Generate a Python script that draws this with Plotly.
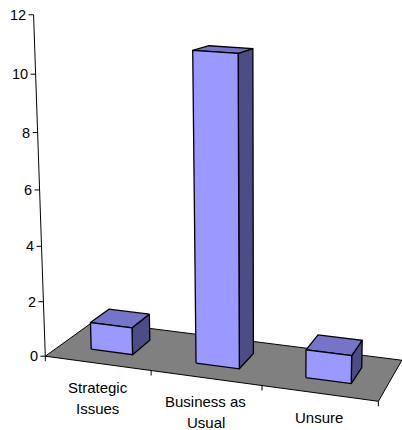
import numpy as np
import plotly.graph_objects as go

# ---- data -------------------------------------------------------------
categories = ["Strategic<br>Issues", "Business as<br>Usual", "Unsure"]
responses = [1, 11, 1]
value_ticks = [0, 2, 4, 6, 8, 10, 12]

# ---- style ------------------------------------------------------------
W, H = 402, 430
FONT = "Liberation Sans, Arial, sans-serif"
FRONT, TOP, SIDE = "#9999FF", "#7474C9", "#4C4C86"
FLOOR = "#808080"
BAR_WIDTH = 0.4          # share of a category slot
BAR_DEPTH = (0.3, 0.7)   # bar position inside the floor depth (0 front, 1 back)

# ---- perspective view ---------------------------------------------------
# World frame: x = category slot (0..n), d = depth (0..1), z = value.
# The view is calibrated from where the frame landmarks sit on the page.
view_world = [(0, 0, 0), (1, 0, 0), (2, 0, 0), (3, 0, 0), (0, 1, 0), (3, 1, 0),
              (0, 0, 2), (0, 0, 4), (0, 0, 6), (0, 0, 8), (0, 0, 10), (0, 0, 12)]
view_pixel = [(45.5, 354.5), (151.7, 370.5), (262, 386.5), (378, 402),
              (93.5, 322.5), (402, 359), (43, 301.7), (41, 246.7), (40, 190),
              (38, 132.3), (35.7, 74), (33.3, 15)]


def fit_view(world_pts, pixel_pts):
    Wp = np.asarray(world_pts, float)
    Sp = np.asarray(pixel_pts, float)
    wm = Wp.mean(0)
    ws = np.sqrt(3) / np.mean(np.linalg.norm(Wp - wm, axis=1))
    Tw = np.diag([ws, ws, ws, 1.0])
    Tw[:3, 3] = -ws * wm
    sm = Sp.mean(0)
    ss = np.sqrt(2) / np.mean(np.linalg.norm(Sp - sm, axis=1))
    Ts = np.diag([ss, ss, 1.0])
    Ts[:2, 2] = -ss * sm
    Wh = (Tw @ np.c_[Wp, np.ones(len(Wp))].T).T
    Sh = (Ts @ np.c_[Sp, np.ones(len(Sp))].T).T
    rows = []
    for Xh, (u, v, _) in zip(Wh, Sh):
        rows.append(np.r_[Xh, np.zeros(4), -u * Xh])
        rows.append(np.r_[np.zeros(4), Xh, -v * Xh])
    _, _, Vt = np.linalg.svd(np.array(rows))
    Pn = Vt[-1].reshape(3, 4)
    return np.linalg.inv(Ts) @ Pn @ Tw


P = fit_view(view_world, view_pixel)


def project(x, d, z):
    h = P @ np.array([x, d, z, 1.0])
    return h[0] / h[2], h[1] / h[2]


def polygon(pts, fill, width=1.3):
    xy = [project(*p) for p in pts]
    xs = [p[0] for p in xy] + [xy[0][0]]
    ys = [p[1] for p in xy] + [xy[0][1]]
    return go.Scatter(x=xs, y=ys, mode="lines", fill="toself", fillcolor=fill,
                      line=dict(color="black", width=width), hoverinfo="skip")


def segments(pairs, width=1.0):
    xs, ys = [], []
    for a, b in pairs:
        xs += [a[0], b[0], None]
        ys += [a[1], b[1], None]
    return go.Scatter(x=xs, y=ys, mode="lines",
                      line=dict(color="black", width=width), hoverinfo="skip")


n = len(categories)
fig = go.Figure()

# floor
fig.add_trace(polygon([(0, 0, 0), (n, 0, 0), (n, 1, 0), (0, 1, 0)], FLOOR, 1.0))

# value axis with ticks
zmax = value_ticks[-1]
fig.add_trace(segments([(project(0, 0, 0), project(0, 0, zmax))]))
tick_pairs = []
annotations = []
for t in value_ticks:
    px, py = project(0, 0, t)
    tick_pairs.append(((px - 5, py), (px, py)))
    annotations.append(dict(x=px - 5.5, y=py, text=str(t), xanchor="right",
                            yanchor="middle", showarrow=False,
                            font=dict(family=FONT, size=14.5, color="black")))
# category ticks along the front edge
for i in range(n + 1):
    px, py = project(i, 0, 0)
    tick_pairs.append(((px, py), (px, py + 5)))
fig.add_trace(segments(tick_pairs))

# category labels
for i, label in enumerate(categories):
    cx, cy = project(i + 0.5, 0, 0)
    for j, line in enumerate(label.split("<br>")):
        annotations.append(dict(x=cx, y=cy + 24 + 21 * j, text=line,
                                xanchor="center", yanchor="middle",
                                showarrow=False,
                                font=dict(family=FONT, size=15, color="black")))

# bars (side, top, then front face)
gap = (1 - BAR_WIDTH) / 2
d0, d1 = BAR_DEPTH
for i, v in enumerate(responses):
    x0, x1 = i + gap, i + 1 - gap
    fig.add_trace(polygon([(x1, d0, 0), (x1, d1, 0), (x1, d1, v), (x1, d0, v)], SIDE))
    fig.add_trace(polygon([(x0, d0, v), (x1, d0, v), (x1, d1, v), (x0, d1, v)], TOP))
    fig.add_trace(polygon([(x0, d0, 0), (x1, d0, 0), (x1, d0, v), (x0, d0, v)], FRONT))

fig.update_layout(
    width=W, height=H,
    margin=dict(l=0, r=0, t=0, b=0),
    paper_bgcolor="white", plot_bgcolor="white",
    showlegend=False,
    xaxis=dict(range=[0, W], visible=False, fixedrange=True),
    yaxis=dict(range=[H, 0], visible=False, fixedrange=True),
    annotations=annotations,
)

fig.write_html("out.html")
